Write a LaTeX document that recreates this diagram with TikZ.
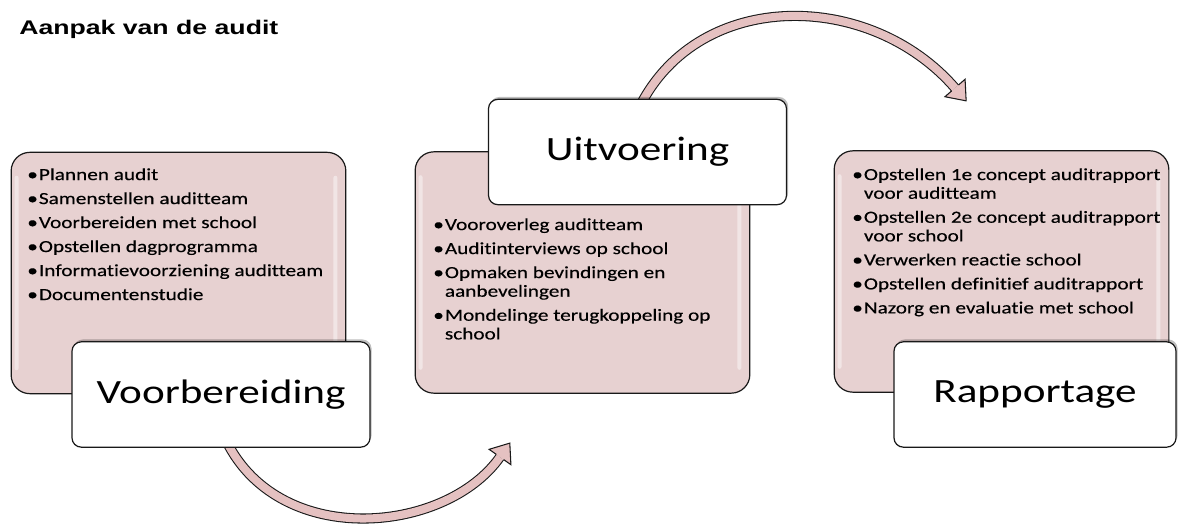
\documentclass[tikz,border=0pt]{standalone}
\usepackage{fontspec}
\usetikzlibrary{calc,shadows}

\newfontfamily\kopfont[FakeStretch=1.35]{Liberation Sans}
\newfontfamily\puntfont[FakeStretch=1.25,FakeBold=0.3,Ligatures=NoCommon]{Carlito}
\newfontfamily\fasefont[FakeStretch=1.27,Ligatures=NoCommon]{Carlito}

\definecolor{vakroze}{RGB}{231,209,209}
\definecolor{pijlroze}{RGB}{229,193,193}
\definecolor{rand}{RGB}{25,25,25}

\newcommand{\punt}{\textbullet\hspace{0.8pt}}
\newcommand{\inspring}{\hphantom{\punt}}
% arrow head at the end #1 of a curve whose last control point is #2
\newcommand{\pijlkop}[2]{
  \coordinate (kp) at ($(#1)!-12.75pt!(#2)$);
  \coordinate (k1) at ($(#1)!10pt!90:(#2)$);
  \coordinate (k2) at ($(#1)!10pt!-90:(#2)$);
  \coordinate (r1) at ($(#1)!3.4pt!90:(#2)$);
  \coordinate (r2) at ($(#1)!3.4pt!-90:(#2)$);
  \fill [pijlroze] (k1) -- (kp) -- (k2) -- cycle;
  \draw [draw=rand, line width=0.8pt, line join=miter] (r1) -- (k1) -- (kp) -- (k2) -- (r2);
}

\tikzset{
  inhoud/.style={draw=rand, line width=0.9pt, fill=vakroze, rounded corners=14pt,
    minimum width=251pt, minimum height=181pt, inner sep=0pt},
  fase/.style={draw=rand, line width=0.9pt, fill=white, rounded corners=7pt,
    minimum width=223.5pt, minimum height=79pt, inner sep=0pt,
    font=\fasefont\fontsize{25.5}{30}\selectfont,
    drop shadow={shadow xshift=1.2pt, shadow yshift=1.8pt, opacity=0.25, fill=black}},
  lijst/.style={anchor=north west, align=left, inner sep=0pt,
    font=\puntfont\fontsize{12.75}{14}\selectfont},
  glans/.style={fill=white, opacity=0.45, rounded corners=1.5pt},
  pijl/.style={draw=rand, line width=0.8pt, double=pijlroze, double distance=6pt}
}

\begin{document}
\begin{tikzpicture}[x=0.75pt,y=0.75pt,yscale=-1,xscale=1]
\useasboundingbox (0,0) rectangle (1180,525);

% Text Node
\node [anchor=base west, inner sep=0pt, font=\kopfont\bfseries\fontsize{14.8}{17}\selectfont] (titel) at (19,34) {Aanpak van de audit};

%Shape: Rounded Rect
\node [inhoud] (voorinhoud) at (178.5,273) {};
\node [inhoud] (uitinhoud) at (582.5,272.5) {};
\node [inhoud] (rapinhoud) at (1001.5,271.5) {};

% glossy strips
\foreach \vak in {voorinhoud,uitinhoud,rapinhoud}{
  \fill [glans] ($(\vak.north west)+(4,24)$) rectangle ($(\vak.south west)+(8,-24)$);
  \fill [glans] ($(\vak.north east)+(-13,24)$) rectangle ($(\vak.south east)+(-9,-24)$);
}

% Text Node
\node [lijst] (voorlijst) at (27,168) {\punt Plannen audit\\[4pt]
  \punt Samenstellen auditteam\\[4pt]
  \punt Voorbereiden met school\\[4pt]
  \punt Opstellen dagprogramma\\[4pt]
  \punt Informatievoorziening auditteam\\[4pt]
  \punt Documentenstudie};
% Text Node
\node [lijst] (uitlijst) at (433,218) {\punt Vooroverleg auditteam\\[4pt]
  \punt Auditinterviews op school\\[4pt]
  \punt Opmaken bevindingen en\\
  \inspring aanbevelingen\\[4pt]
  \punt Mondelinge terugkoppeling op\\
  \inspring school};
% Text Node
\node [lijst] (raplijst) at (852,168) {\punt Opstellen 1e concept auditrapport\\
  \inspring voor auditteam\\[4pt]
  \punt Opstellen 2e concept auditrapport\\
  \inspring voor school\\[4pt]
  \punt Verwerken reactie school\\[4pt]
  \punt Opstellen definitief auditrapport\\[4pt]
  \punt Nazorg en evaluatie met school};

%Curve Lines
\coordinate (onderbegin) at (224,436);
\coordinate (onderc1) at (275,550);
\coordinate (onderc2) at (445,535);
\coordinate (ondereind) at (500,457);
\draw [pijl] (onderbegin) .. controls (onderc1) and (onderc2) .. (ondereind);
\pijlkop{ondereind}{onderc2}

%Curve Lines
\coordinate (bovenbegin) at (640,106);
\coordinate (bovenc1) at (700,-12);
\coordinate (bovenc2) at (870,-10);
\coordinate (boveneind) at (955,88);
\draw [pijl] (bovenbegin) .. controls (bovenc1) and (bovenc2) .. (boveneind);
\pijlkop{boveneind}{bovenc2}

%Shape: Rounded Rect with text
\node [fase] (voorlabel) at (221,394.5) {Voorbereiding};
\node [fase] (uitlabel) at (637.5,152) {Uitvoering};
\node [fase, minimum width=211.5pt] (raplabel) at (1035,394.5) {Rapportage};

\end{tikzpicture}
\end{document}
